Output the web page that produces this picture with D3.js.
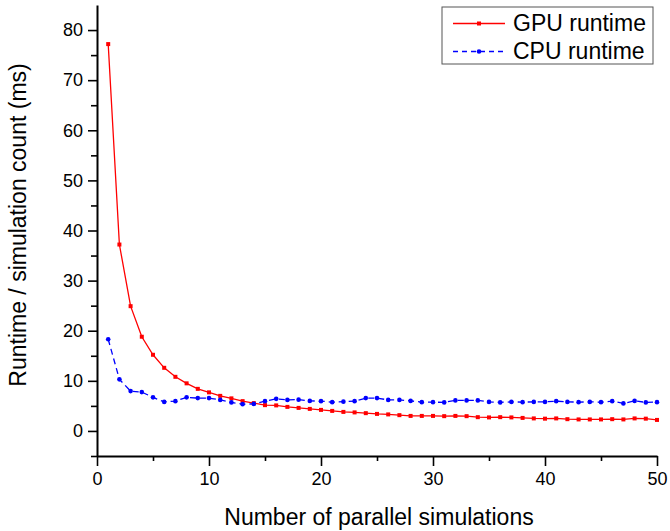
<!DOCTYPE html>
<html>
<head>
<meta charset="utf-8">
<script src="https://cdn.jsdelivr.net/npm/d3@7"></script>
<style>
  html, body { margin: 0; padding: 0; background: #fff; }
  svg { display: block; font-family: "Liberation Sans", Arial, Helvetica, sans-serif; }
</style>
</head>
<body>
<svg id="chart" width="670" height="531"></svg>
<script>
// ---- data ----
const simCounts = d3.range(1, 51);
const gpuRuntime = [77.2, 37.2, 24.9, 18.8, 15.2, 12.6, 10.8, 9.5, 8.4, 7.7,
                    7.0, 6.5, 5.95, 5.55, 5.15, 5.1, 4.8, 4.6, 4.4, 4.2,
                    4.0, 3.8, 3.7, 3.55, 3.4, 3.3, 3.15, 3.0, 3.0, 3.0,
                    2.95, 3.0, 2.95, 2.75, 2.7, 2.75, 2.7, 2.6, 2.5, 2.45,
                    2.5, 2.35, 2.3, 2.3, 2.3, 2.35, 2.3, 2.5, 2.45, 2.2];
const cpuRuntime = [18.3, 10.3, 7.95, 7.75, 6.7, 5.8, 5.95, 6.7, 6.55, 6.55,
                    6.2, 5.7, 5.35, 5.4, 5.95, 6.4, 6.2, 6.25, 6.0, 5.95,
                    5.75, 5.85, 5.95, 6.55, 6.55, 6.2, 6.2, 6.0, 5.75, 5.75,
                    5.7, 6.1, 6.1, 6.1, 5.8, 5.7, 5.8, 5.75, 5.8, 5.8,
                    5.95, 5.8, 5.75, 5.8, 5.75, 5.95, 5.5, 6.0, 5.7, 5.75];
const xTicks = [0, 10, 20, 30, 40, 50];
const yTicks = [0, 10, 20, 30, 40, 50, 60, 70, 80];
const seriesNames = ["GPU runtime", "CPU runtime"];

// ---- layout ----
const svg = d3.select("#chart");
const x = d3.scaleLinear().domain([0, 50]).range([97, 657]);
const y = d3.scaleLinear().domain([-5, 85]).range([456, 5]);

// minor ticks
const xMinor = d3.range(5, 50, 10);
const yMinor = d3.range(-5, 85, 10);

// x axis
const gx = svg.append("g").attr("transform", `translate(0,${y(-5)})`);
gx.call(d3.axisBottom(x).tickValues(xMinor).tickSize(5).tickSizeOuter(0).tickFormat(""));
gx.call(g => g.selectAll(".domain").remove());
const gx2 = svg.append("g").attr("transform", `translate(0,${y(-5)})`);
gx2.call(d3.axisBottom(x).tickValues(xTicks).tickSize(10).tickSizeOuter(0).tickPadding(6));
[gx, gx2].forEach(g => {
  g.selectAll("line").attr("stroke", "#000").attr("stroke-width", 1.6);
  g.selectAll(".domain").attr("stroke", "#000").attr("stroke-width", 2);
  g.selectAll("text").attr("font-size", 18).attr("fill", "#000")
   .attr("font-family", "'Liberation Sans', Arial, sans-serif");
});

// y axis
const gy = svg.append("g").attr("transform", `translate(${x(0)},0)`);
gy.call(d3.axisLeft(y).tickValues(yMinor).tickSize(6).tickSizeOuter(0).tickFormat(""));
gy.call(g => g.selectAll(".domain").remove());
const gy2 = svg.append("g").attr("transform", `translate(${x(0)},0)`);
gy2.call(d3.axisLeft(y).tickValues(yTicks).tickSize(9).tickSizeOuter(0).tickPadding(5));
[gy, gy2].forEach(g => {
  g.selectAll("line").attr("stroke", "#000").attr("stroke-width", 1.6);
  g.selectAll(".domain").attr("stroke", "#000").attr("stroke-width", 2);
  g.selectAll("text").attr("font-size", 18).attr("fill", "#000")
   .attr("font-family", "'Liberation Sans', Arial, sans-serif");
});

// axis titles
svg.append("text")
  .attr("x", 379).attr("y", 525)
  .attr("text-anchor", "middle")
  .attr("font-size", 23)
  .text("Number of parallel simulations");
svg.append("text")
  .attr("transform", "translate(26,225) rotate(-90)")
  .attr("text-anchor", "middle")
  .attr("font-size", 23)
  .text("Runtime / simulation count (ms)");

// lines
const line = d3.line().x((d, i) => x(simCounts[i])).y(d => y(d));
svg.append("path").datum(gpuRuntime)
  .attr("d", line).attr("fill", "none").attr("stroke", "#ff0000").attr("stroke-width", 1.3);
svg.append("path").datum(cpuRuntime)
  .attr("d", line).attr("fill", "none").attr("stroke", "#0000ff").attr("stroke-width", 1.3)
  .attr("stroke-dasharray", "6,4");

// markers
svg.append("g").selectAll("rect").data(gpuRuntime).join("rect")
  .attr("x", (d, i) => x(simCounts[i]) - 2).attr("y", d => y(d) - 2)
  .attr("width", 4).attr("height", 4).attr("fill", "#ff0000");
svg.append("g").selectAll("circle").data(cpuRuntime).join("circle")
  .attr("cx", (d, i) => x(simCounts[i])).attr("cy", d => y(d))
  .attr("r", 2.3).attr("fill", "#0000ff");

// legend
const lg = svg.append("g");
lg.append("rect").attr("x", 442).attr("y", 7).attr("width", 211).attr("height", 57)
  .attr("fill", "#fff").attr("stroke", "#555").attr("stroke-width", 1);
const rowsY = [23.5, 51.5];
const colors = ["#ff0000", "#0000ff"];
seriesNames.forEach((name, i) => {
  lg.append("line").attr("x1", 453).attr("x2", 505).attr("y1", rowsY[i]).attr("y2", rowsY[i])
    .attr("stroke", colors[i]).attr("stroke-width", 1.3)
    .attr("stroke-dasharray", i === 1 ? "5,4" : null);
  if (i === 0) {
    lg.append("rect").attr("x", 477).attr("y", rowsY[i] - 2).attr("width", 4).attr("height", 4).attr("fill", colors[i]);
  } else {
    lg.append("circle").attr("cx", 479).attr("cy", rowsY[i]).attr("r", 2.3).attr("fill", colors[i]);
  }
  lg.append("text").attr("x", 513).attr("y", rowsY[i] + 7.5)
    .attr("font-size", 23).attr("fill", "#000").text(name);
});
</script>
</body>
</html>
